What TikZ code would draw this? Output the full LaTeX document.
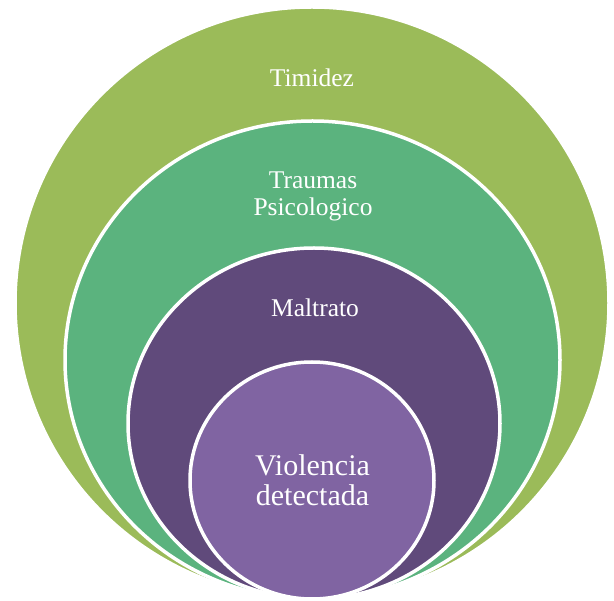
\documentclass[tikz,border=0pt]{standalone}
\usepackage{fontspec}
\setmainfont{Liberation Serif}
\usetikzlibrary{shapes.geometric}

\definecolor{limegreen}{HTML}{9BBB59}
\definecolor{seagreen}{HTML}{5BB37E}
\definecolor{darkpurple}{HTML}{604A7B}
\definecolor{lightpurple}{HTML}{8064A2}

\begin{document}
\begin{tikzpicture}[x=1pt, y=-1pt,
                    ring/.style={ellipse, draw=white, line width=3.5pt, inner sep=0pt},
                    txt/.style={text=white, align=center, inner sep=0pt}]

\useasboundingbox (0,0) rectangle (614,601);

% Outer ring
\node[ring, fill=limegreen, minimum width=594pt, minimum height=592pt] (timidez) at (312,303) {};
\node[txt, anchor=base, font=\fontsize{25.5}{27}\selectfont] (tTimidez) at (312,87) {Timidez};

% Second ring
\node[ring, fill=seagreen, minimum width=495pt, minimum height=478pt] (traumas) at (312.5,360) {};
\node[txt, font=\fontsize{25.5}{27}\selectfont] (tTraumas) at (313,196) {Traumas\\Psicologico};

% Third ring
\node[ring, fill=darkpurple, minimum width=372pt, minimum height=351pt] (maltrato) at (314,423.5) {};
\node[txt, anchor=base, font=\fontsize{25.5}{27}\selectfont] (tMaltrato) at (315,317) {Maltrato};

% Inner circle
\node[ring, fill=lightpurple, minimum width=244pt, minimum height=237pt] (violencia) at (312,480.5) {};
\node[txt, font=\fontsize{30}{30}\selectfont] (tViolencia) at (312.5,480) {Violencia\\detectada};

\end{tikzpicture}
\end{document}
